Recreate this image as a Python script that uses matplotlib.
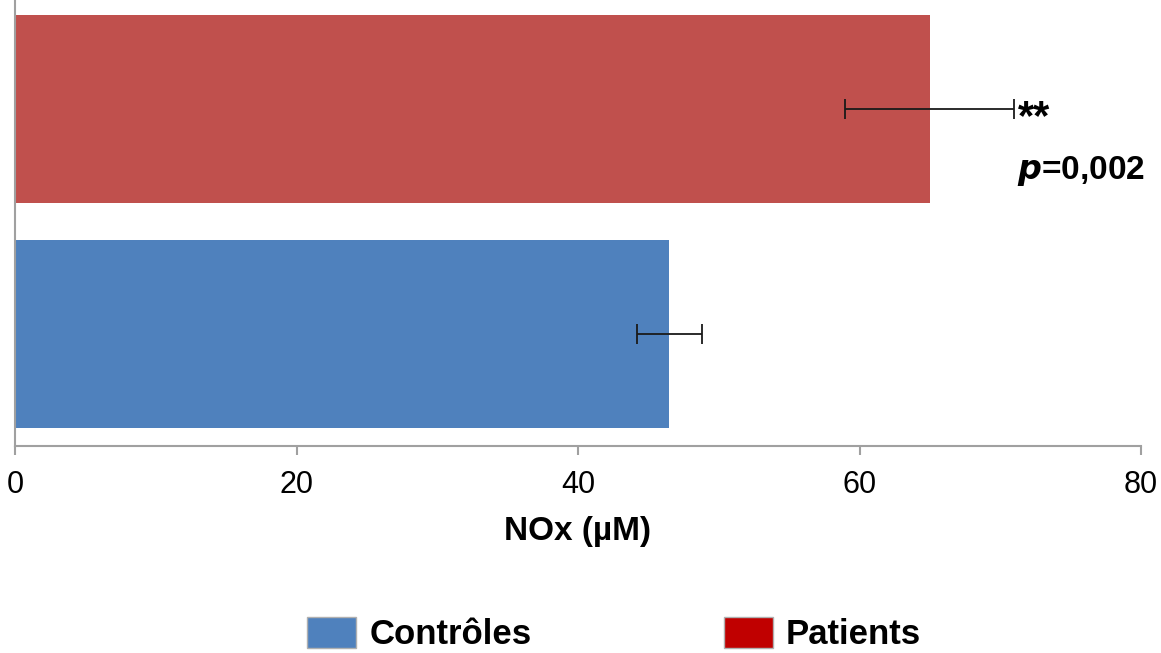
import matplotlib
matplotlib.use("Agg")
import matplotlib.pyplot as plt
from matplotlib.patches import Patch

# data
groups = ["Contrôles", "Patients"]
means = [46.5, 65.0]
errors = [2.3, 6.0]
bar_colors = ["#4F81BD", "#C0504D"]
legend_colors = ["#4F81BD", "#C00000"]
xticks = [0, 20, 40, 60, 80]

plt.rcParams["font.family"] = ["Liberation Sans", "DejaVu Sans"]

fig = plt.figure(figsize=(11.61, 6.53), dpi=100)
ax = fig.add_axes([15 / 1161, 1 - 446 / 653, 1126 / 1161, 446 / 653])

ypos = range(len(groups))
ax.barh(ypos, means, height=0.836, color=bar_colors)
ax.errorbar(means, ypos, xerr=errors, fmt="none", ecolor="#1a1a1a",
            elinewidth=1.3, capsize=7, capthick=1.3)

ax.set_xlim(0, 80)
ax.set_ylim(-0.5, 1.485)
ax.set_xticks(xticks)
ax.set_xticklabels([str(t) for t in xticks], fontsize=22)
ax.set_yticks([])
ax.tick_params(axis="x", length=6.5, width=1.5, color="#a0a0a0", pad=10.5)
for side in ["top", "right"]:
    ax.spines[side].set_visible(False)
for side in ["left", "bottom"]:
    ax.spines[side].set_color("#a0a0a0")
    ax.spines[side].set_linewidth(1.5)

ax.set_xlabel("NOx (µM)", fontsize=24, fontweight="bold", labelpad=12)

# significance annotation
ax.text(means[1] + errors[1] + 0.25, 0.96, "**", fontsize=30, fontweight="bold",
        va="center", ha="left")
ax.text(71.2, 0.725, r"$\boldsymbol{p}$=0,002", fontsize=24, fontweight="bold",
        va="center", ha="left")

handles = [Patch(facecolor=c, edgecolor="#b0b0b0", label=g)
           for c, g in zip(legend_colors, groups)]
fig.legend(handles=handles, loc="lower center", bbox_to_anchor=(0.529, -0.045),
           ncol=2, frameon=False, prop={"size": 25, "weight": "bold"},
           handlelength=1.41, handleheight=1.0, columnspacing=5.55, handletextpad=0.37)

fig.savefig("out.png", dpi=100)
